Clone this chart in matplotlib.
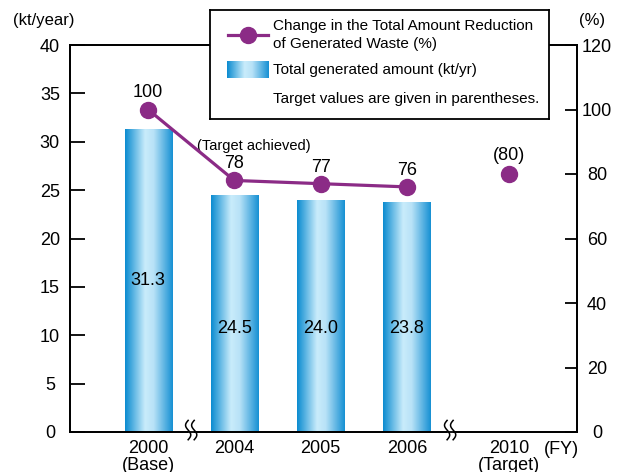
import numpy as np
import matplotlib
matplotlib.use("Agg")
import matplotlib.pyplot as plt
from matplotlib.colors import LinearSegmentedColormap
from matplotlib.patches import Rectangle
from matplotlib.transforms import blended_transform_factory

plt.rcParams['font.family'] = ['Liberation Sans', 'DejaVu Sans']

# data
years = ['2000\n(Base)', '2004', '2005', '2006', '2010\n(Target)']
x_pos = [0, 1, 2, 3, 4.18]
amount = [31.3, 24.5, 24.0, 23.8]           # kt/yr
reduction = [100, 78, 77, 76]                # %
target_pct = 80
left_ticks = [0, 5, 10, 15, 20, 25, 30, 35, 40]
right_ticks = [0, 20, 40, 60, 80, 100, 120]

PURPLE = '#8b2b86'
bar_cmap = LinearSegmentedColormap.from_list(
    'barblue', [(0.0, '#0a8bd0'), (0.42, '#c9ecfb'), (0.6, '#b8e2f7'), (1.0, '#1690d3')])
grad = np.linspace(0, 1, 256).reshape(1, -1)

W, H = 626, 472
fig = plt.figure(figsize=(W / 100, H / 100), dpi=100)
ax = fig.add_axes([70 / W, (H - 432) / H, (577 - 70) / W, (432 - 45) / H])
ax2 = ax.twinx()

ax.set_xlim(-0.904, 4.97)
ax.set_ylim(0, 40)
ax2.set_ylim(0, 120)

# gradient bars
bars = ax.bar(x_pos[:4], amount, width=0.545, color='none', edgecolor='none', zorder=2)
for b in bars:
    x0, y0 = b.get_x(), b.get_y()
    im = ax.imshow(grad, cmap=bar_cmap, aspect='auto', zorder=2,
                   extent=[x0, x0 + b.get_width(), y0, y0 + b.get_height()])
    im.set_clip_path(b)
ax.set_xlim(-0.904, 4.97)
ax.set_ylim(0, 40)

inner_y = [15.7, 10.7, 10.7, 10.7]
for xp, v, iy in zip(x_pos, amount, inner_y):
    ax.text(xp, iy, f'{v:.1f}', ha='center', va='center', fontsize=13, zorder=3)

# reduction line
ax2.plot(x_pos[:4], reduction, color=PURPLE, lw=2.3, marker='o', ms=11.5, zorder=4)
ax2.plot(x_pos[4], target_pct, color=PURPLE, marker='o', ms=11.5, ls='none', zorder=4)
for xp, v in zip(x_pos, reduction):
    ax2.annotate(str(v), (xp, v), xytext=(0, 12), textcoords='offset points',
                 ha='center', va='center', fontsize=13)
ax2.annotate(f'({target_pct})', (x_pos[4], target_pct), xytext=(0, 13),
             textcoords='offset points', ha='center', va='center', fontsize=13)
ax.text(1.22, 29.6, '(Target achieved)', ha='center', va='center', fontsize=10.5)

# axes styling
for a in (ax, ax2):
    for s in a.spines.values():
        s.set_linewidth(1.3)
ax.set_yticks(left_ticks)
ax.tick_params(axis='y', direction='in', length=11, width=1.3, pad=14.5, labelsize=13)
for lbl in ax.get_yticklabels():
    lbl.set_ha('center')
ax2.set_yticks(right_ticks)
ax2.tick_params(axis='y', direction='in', length=9, width=1.3, pad=14.5, labelsize=13)
for lbl in ax2.get_yticklabels():
    lbl.set_ha('center')
ax.set_xticks(x_pos)
ax.set_xticklabels(years, fontsize=13, linespacing=1.0)
ax.tick_params(axis='x', length=0, pad=6)

fig.text(44 / W, 1 - 20 / H, '(kt/year)', ha='center', va='center', fontsize=12)
fig.text(592 / W, 1 - 20 / H, '(%)', ha='center', va='center', fontsize=12)
fig.text(561 / W, 1 - 449 / H, '(FY)', ha='center', va='center', fontsize=13)

# axis break marks
tr = blended_transform_factory(ax.transData, ax.transAxes)
t = np.linspace(0, 1, 60)
for xb in (0.5, 3.5):
    ax.add_patch(Rectangle((xb - 0.035, -0.01), 0.07, 0.02, transform=tr,
                           facecolor='white', edgecolor='none', clip_on=False, zorder=5))
    for dx in (-0.035, 0.035):
        ax.plot(xb + dx + 0.03 * np.sin(t * 2 * np.pi), -0.02 + 0.05 * t, color='black',
                lw=1.1, transform=tr, clip_on=False, zorder=6)

# legend box
lax = fig.add_axes([210 / W, 1 - 119 / H, (549 - 210) / W, (119 - 10) / H])
lax.set_xlim(210, 549)
lax.set_ylim(119, 10)
lax.set_xticks([])
lax.set_yticks([])
lax.set_facecolor('white')
for s in lax.spines.values():
    s.set_linewidth(1.3)
lax.plot([228, 268], [35, 35], color=PURPLE, lw=2.3)
lax.plot([248], [35], color=PURPLE, marker='o', ms=11.5)
lax.imshow(grad, cmap=bar_cmap, aspect='auto', extent=[227, 269, 78, 61])
lax.set_xlim(210, 549)
lax.set_ylim(119, 10)
lax.text(273, 26, 'Change in the Total Amount Reduction', ha='left', va='center', fontsize=11)
lax.text(273, 44, 'of Generated Waste (%)', ha='left', va='center', fontsize=11)
lax.text(273, 70, 'Total generated amount (kt/yr)', ha='left', va='center', fontsize=11)
lax.text(273, 99, 'Target values are given in parentheses.', ha='left', va='center', fontsize=11)

fig.savefig('out.png', dpi=100)
